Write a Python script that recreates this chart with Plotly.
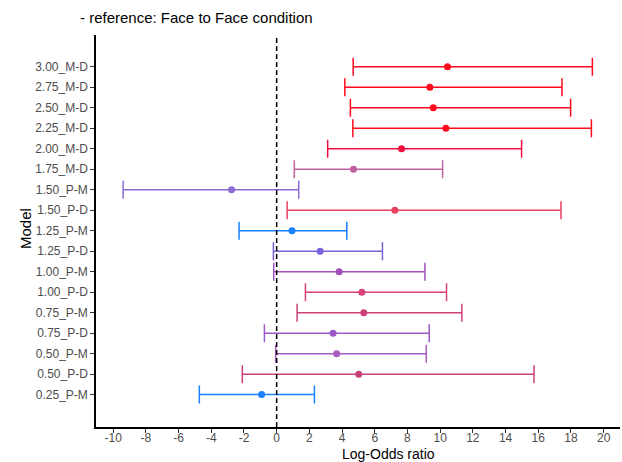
import plotly.graph_objects as go

# Data (bottom to top)
models = ["0.25_P-M", "0.50_P-D", "0.50_P-M", "0.75_P-D", "0.75_P-M", "1.00_P-D",
          "1.00_P-M", "1.25_P-D", "1.25_P-M", "1.50_P-D", "1.50_P-M", "1.75_M-D",
          "2.00_M-D", "2.25_M-D", "2.50_M-D", "2.75_M-D", "3.00_M-D"]
estimate = [-0.92, 5.02, 3.67, 3.45, 5.33, 5.21, 3.82, 2.66, 0.94, 7.23, -2.76, 4.70,
            7.64, 10.35, 9.58, 9.37, 10.45]
ci_low = [-4.73, -2.10, -0.06, -0.75, 1.25, 1.76, -0.18, -0.20, -2.30, 0.64, -9.39, 1.08,
          3.12, 4.66, 4.51, 4.17, 4.68]
ci_high = [2.31, 15.74, 9.15, 9.33, 11.33, 10.39, 9.07, 6.47, 4.29, 17.39, 1.35, 10.15,
           14.98, 19.25, 17.98, 17.45, 19.31]
x_ticks = list(range(-10, 21, 2))

# Style: per-row colours
colors = ["#1E80FF", "#C8407A", "#A85CC0", "#9B59C8", "#D04078", "#D9407A",
          "#A050B8", "#7B62DC", "#1A80FF", "#E8405F", "#8C6AD8", "#C060A0",
          "#F01040", "#FF0A1E", "#FF0A1E", "#FF0A1E", "#FF0A1E"]

fig = go.Figure()
for m, e, lo, hi, c in zip(models, estimate, ci_low, ci_high, colors):
    fig.add_trace(go.Scatter(
        x=[e], y=[m], mode="markers",
        marker=dict(color=c, size=7),
        error_x=dict(type="data", symmetric=False, array=[hi - e], arrayminus=[e - lo],
                     color=c, thickness=1.5, width=9),
        showlegend=False, hoverinfo="skip"))

fig.add_shape(type="line", x0=0, x1=0, xref="x", y0=0, y1=1, yref="paper",
              line=dict(color="black", width=1.5, dash="5px,3px"))

fig.add_annotation(text="Log-Odds ratio", xref="paper", yref="paper",
                   x=(388 - 96) / 524, y=-26.5 / 392, xanchor="center", yanchor="middle",
                   showarrow=False, font=dict(size=14, color="black"))
fig.add_annotation(text="Model", xref="paper", yref="paper",
                   x=-(96 - 25) / 524, y=(427 - 229) / 392, xanchor="center", yanchor="middle",
                   textangle=-90, showarrow=False, font=dict(size=15, color="black"))

fig.update_layout(
    width=622, height=462,
    margin=dict(l=96, r=2, t=35, b=35, autoexpand=False),
    plot_bgcolor="white", paper_bgcolor="white",
    font=dict(family="Liberation Sans, Arial, sans-serif", color="black"),
    title=dict(text="- reference: Face to Face condition", xref="container", x=80/622,
               xanchor="left", yref="container", y=1 - 18/462, yanchor="middle",
               font=dict(size=15, color="black")),
    xaxis=dict(range=[-11.05, 21.0], tickvals=x_ticks, ticktext=[str(t) for t in x_ticks],
               automargin=False, ticklabelstandoff=-5,
               showgrid=False, zeroline=False, showline=True, linecolor="black", linewidth=1.5,
               ticks="outside", ticklen=4, tickcolor="#333333", tickwidth=1,
               tickfont=dict(size=12, color="#4D4D4D")),
    yaxis=dict(type="category", categoryorder="array", categoryarray=models,
               range=[-1.58, 17.55], automargin=False,
               showgrid=False, zeroline=False, showline=True, linecolor="black", linewidth=1.5,
               ticks="outside", ticklen=4, tickcolor="#333333", tickwidth=1,
               tickfont=dict(size=12, color="#4D4D4D")),
)

fig.write_html("out.html", config={"displayModeBar": False},
               post_script="document.body.style.margin='0';")
